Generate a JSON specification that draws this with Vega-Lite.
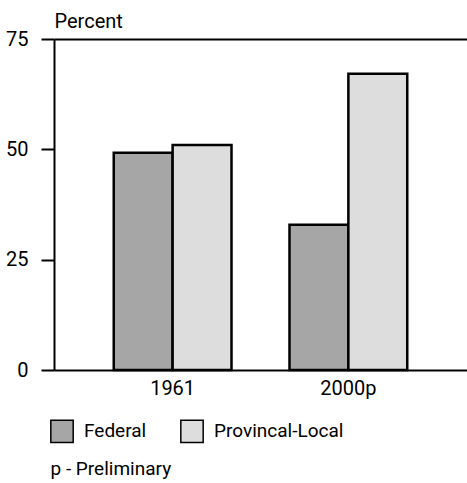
{
  "$schema": "https://vega.github.io/schema/vega-lite/v6.json",
  "width": 413,
  "height": 331,
  "autosize": "none",
  "padding": {"left": 54, "top": 39, "right": 0, "bottom": 113},
  "background": "white",
  "config": {
    "view": {"stroke": null},
    "font": "Roboto",
    "axis": {"labelColor": "black", "titleColor": "black", "titleFontWeight": "normal"}
  },
  "data": {
    "values": [
      {"Year": "1961", "Level": "Federal", "Percent": 49.2},
      {"Year": "1961", "Level": "Provincal-Local", "Percent": 51.0},
      {"Year": "2000p", "Level": "Federal", "Percent": 32.9},
      {"Year": "2000p", "Level": "Provincal-Local", "Percent": 67.1}
    ]
  },
  "mark": {"type": "bar", "stroke": "black", "strokeWidth": 2.5},
  "encoding": {
    "x": {
      "field": "Year",
      "type": "nominal",
      "scale": {"paddingInner": 0.33, "paddingOuter": 0.34},
      "axis": {
        "labelAngle": 0,
        "ticks": false,
        "domainColor": "black",
        "domainWidth": 2,
        "labelFontSize": 20,
        "labelPadding": 8,
        "title": "p - Preliminary",
        "titleFontSize": 19,
        "titleX": -4,
        "titleY": 104,
        "titleAlign": "left",
        "titleAnchor": "start",
        "titleBaseline": "alphabetic"
      }
    },
    "xOffset": {
      "field": "Level",
      "type": "nominal",
      "scale": {"paddingInner": 0, "paddingOuter": 0}
    },
    "y": {
      "field": "Percent",
      "type": "quantitative",
      "scale": {"domain": [0, 75]},
      "axis": {
        "values": [0, 25, 50, 75],
        "tickSize": 13,
        "tickWidth": 2,
        "tickColor": "black",
        "domainColor": "black",
        "domainWidth": 2,
        "labelFontSize": 20,
        "labelPadding": 13,
        "grid": true,
        "gridColor": "black",
        "gridWidth": 2,
        "gridOpacity": {"condition": {"test": "datum.value === 75", "value": 1}, "value": 0},
        "title": "Percent",
        "titleFontSize": 20,
        "titleAngle": 0,
        "titleAlign": "left",
        "titleBaseline": "alphabetic",
        "titleX": 0,
        "titleY": -12
      }
    },
    "color": {
      "field": "Level",
      "type": "nominal",
      "scale": {"domain": ["Federal", "Provincal-Local"], "range": ["#a6a6a6", "#dddddd"]},
      "legend": {
        "title": null,
        "orient": "none",
        "legendX": -4,
        "legendY": 380,
        "direction": "horizontal",
        "symbolType": "square",
        "symbolSize": 500,
        "symbolStrokeColor": "black",
        "symbolStrokeWidth": 1.5,
        "symbolOpacity": 1,
        "labelFontSize": 19,
        "labelColor": "black",
        "labelOffset": 10,
        "columnPadding": 30
      }
    }
  }
}
